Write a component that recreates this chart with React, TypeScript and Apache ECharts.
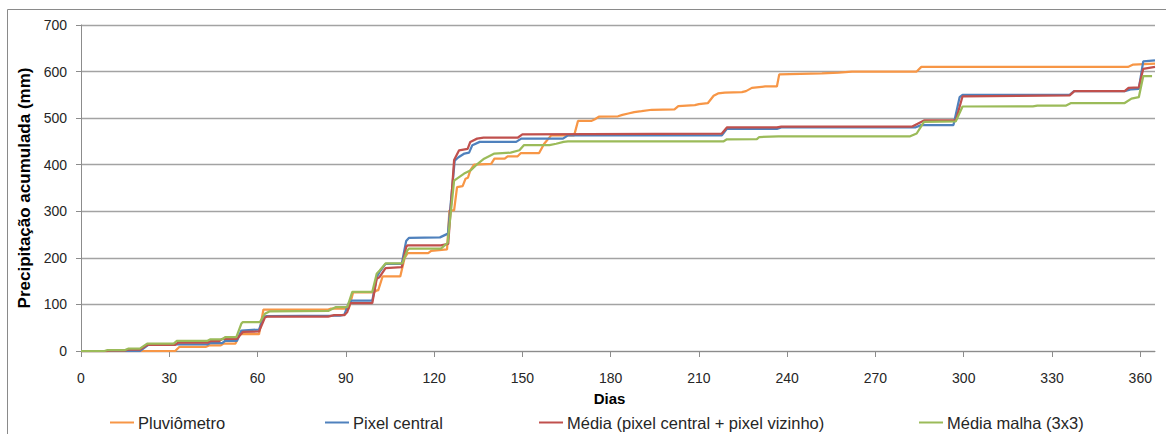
import React, { useEffect, useRef } from "react";
import * as echarts from "echarts";

const seriesNames = [
  "Pluviômetro",
  "Pixel central",
  "Média (pixel central + pixel vizinho)",
  "Média malha (3x3)",
];

const pluviometro: [number, number][] = [
  [0, 0], [32, 0], [33.5, 9], [42.5, 9], [43.5, 12], [47.5, 12], [48.5, 16], [52.5, 16],
  [54, 36], [60.5, 36], [62, 89], [84, 89], [85, 91], [91, 91], [92.5, 126], [99.5, 126],
  [100.5, 130], [101, 130], [102.5, 160], [108.5, 160], [110, 200], [111, 210], [118, 210],
  [119, 215], [124.4, 218], [125.2, 302], [126.8, 302], [127.8, 352], [129.7, 354],
  [130.7, 370], [131.5, 372], [132.3, 388], [133.6, 400], [139.4, 402], [140.5, 413],
  [144, 413], [145, 418], [148.4, 418], [149.5, 425], [155.7, 425], [157.4, 445],
  [159.8, 463], [167.6, 463], [168.9, 494], [173.4, 494], [174.5, 497], [176, 503],
  [182.5, 504], [184, 507], [186, 510], [188, 513], [190.5, 515], [194, 518], [201.7, 519],
  [203, 526], [208.6, 528], [210, 530], [213, 532], [215, 548], [216.5, 553], [218.8, 555],
  [224.6, 556], [226, 558], [228, 565], [232.5, 568], [236.5, 568], [237.3, 594],
  [251.8, 596], [257.5, 598], [262, 600], [284, 600], [285.6, 610], [355.8, 610],
  [357.6, 615], [365, 617],
];

const pixelCentral: [number, number][] = [
  [0, 0], [20, 0], [23, 14], [43, 14], [44, 17], [48, 17], [49, 22], [53, 22], [54.5, 44],
  [60.5, 46], [62, 72], [63, 75], [88, 76], [89.5, 78], [91, 103], [92, 108], [99, 108],
  [100.5, 159], [101.5, 170], [103.5, 187], [109, 187], [110.5, 236], [111.5, 243],
  [122, 244], [124.7, 252], [127, 409], [128.3, 416], [130.3, 424], [131.9, 426], [133, 442],
  [135.5, 449], [147.9, 449], [149.6, 456], [163.8, 456], [165.5, 463], [217.8, 463],
  [219.5, 477], [236.5, 477], [238, 480], [283.5, 480], [285.5, 485], [296.5, 485],
  [298.6, 545], [299.6, 550], [336, 550], [337.5, 558], [354.7, 558], [357, 562],
  [359.5, 563], [361, 622], [365, 624],
];

const mediaVizinho: [number, number][] = [
  [0, 0], [9, 0], [10, 1], [15, 1], [16, 3], [20, 3], [22.5, 13], [32, 13], [33, 18], [43, 18],
  [44, 21], [47, 21], [48, 26], [53, 26], [55, 41], [60.5, 42], [62.5, 72], [63.5, 74],
  [84, 74], [86, 77], [89.5, 77], [90.5, 84], [91.5, 103], [99, 103], [100.5, 155],
  [101.5, 159], [103.5, 178], [109, 180], [110.5, 223], [111, 227], [122.3, 227],
  [124.8, 230], [126.8, 410], [128.5, 431], [131.4, 434], [132.3, 449], [134.6, 456],
  [136.8, 458], [148.4, 458], [150, 465], [217.8, 467], [219.5, 480], [236.5, 480],
  [238, 482], [282.5, 482], [284, 487], [286.5, 495], [297.3, 495], [299.6, 547], [336, 549],
  [337.6, 558], [354.7, 558], [356, 565], [359.5, 566], [361, 606], [365, 610],
];

const mediaMalha: [number, number][] = [
  [0, 0], [8, 0], [9, 2], [15, 2], [16, 5], [20, 5], [22.5, 16], [31.5, 16], [32.5, 21.5],
  [43, 22], [44, 25], [48, 25], [49, 30], [52.8, 30], [54.5, 59], [55, 62], [60.8, 62],
  [62.5, 80], [64, 85], [84, 86], [86.5, 94], [90.5, 94], [92.2, 127], [99, 127],
  [100.5, 166], [101.5, 173], [103.5, 188], [109.2, 188], [110.9, 216], [111.5, 220],
  [122.3, 220], [124.6, 232], [126.8, 366], [130.2, 381], [132.5, 388], [134.8, 402],
  [137, 413], [140.5, 424], [146, 426], [149, 431], [150.5, 442], [159.2, 442],
  [161.5, 445], [164, 449], [165.5, 450], [218.3, 450], [219.5, 454.6], [229.7, 455],
  [230.5, 459.5], [237, 461], [281.8, 461], [284, 467], [286.5, 492], [297.3, 493],
  [299.6, 525], [323.5, 525.5], [325, 527], [334.8, 527], [336.5, 532.5], [354.7, 532.5],
  [357, 542], [359.5, 545], [361, 590], [364, 590],
];

const xTickValues = [0, 30, 60, 90, 120, 150, 180, 210, 240, 270, 300, 330, 360];

const colors = ["#F79646", "#4F81BD", "#C0504D", "#9BBB59"];
const FONT = "Liberation Sans, Arial, sans-serif";
const TEXT = "#262626";

export default function App() {
  const ref = useRef<HTMLDivElement>(null);

  useEffect(() => {
    if (!ref.current) return;
    const chart = echarts.init(ref.current, undefined, { renderer: "svg" });
    const datasets = [pluviometro, pixelCentral, mediaVizinho, mediaMalha];
    const legendLefts = [110, 325, 539, 919];

    chart.setOption({
      animation: false,
      color: colors,
      grid: { left: 81, right: 11, top: 25, bottom: 83 },
      graphic: [
        {
          type: "rect",
          silent: true,
          shape: { x: 7.5, y: 9.5, width: 1300, height: 700 },
          style: { fill: "none", stroke: "#8a8a8a", lineWidth: 1 },
        },
        {
          type: "text",
          x: 609.5,
          y: 398,
          style: {
            text: "Dias",
            fontFamily: FONT,
            fontSize: 15,
            fontWeight: "bold",
            fill: "#000",
            textAlign: "center",
            textVerticalAlign: "middle",
          },
        },
      ],
      legend: seriesNames.map((n, i) => ({
        data: [n],
        left: legendLefts[i],
        top: 414,
        padding: 0,
        itemWidth: 24,
        itemHeight: 2,
        icon: "rect",
        selectedMode: false,
        textStyle: { fontSize: 16.5, fontFamily: FONT, color: TEXT, padding: [0, 0, 0, -1] },
      })),
      xAxis: {
        type: "value",
        min: 0,
        max: 365,
        interval: 30,
        axisLine: { show: true, lineStyle: { color: "#8c8c8c", width: 1 } },
        axisTick: { show: true, length: 6, customValues: xTickValues, lineStyle: { color: "#8c8c8c" } },
        axisLabel: {
          customValues: xTickValues,
          margin: 20,
          fontSize: 14,
          fontFamily: FONT,
          color: TEXT,
        },
        splitLine: { show: false },
      },
      yAxis: {
        type: "value",
        min: 0,
        max: 700,
        interval: 100,
        name: "Precipitação acumulada (mm)",
        nameLocation: "middle",
        nameGap: 47,
        nameTextStyle: { fontSize: 17, fontWeight: "bold", fontFamily: FONT, color: "#000" },
        axisLine: { show: true, lineStyle: { color: "#8c8c8c", width: 1 } },
        axisTick: { show: true, length: 5, lineStyle: { color: "#8c8c8c" } },
        axisLabel: { margin: 14, fontSize: 14, fontFamily: FONT, color: TEXT },
        splitLine: { show: true, lineStyle: { color: "#a3a3a3", width: 1.3 } },
      },
      series: seriesNames.map((n, i) => ({
        name: n,
        type: "line",
        data: datasets[i],
        showSymbol: false,
        symbol: "none",
        lineStyle: { width: 2.25, color: colors[i] },
        itemStyle: { color: colors[i] },
        z: 2 + i,
      })),
    });

    return () => chart.dispose();
  }, []);

  return (
    <div
      ref={ref}
      style={{ position: "fixed", left: 0, top: 0, width: 1166, height: 434, background: "#fff" }}
    />
  );
}
